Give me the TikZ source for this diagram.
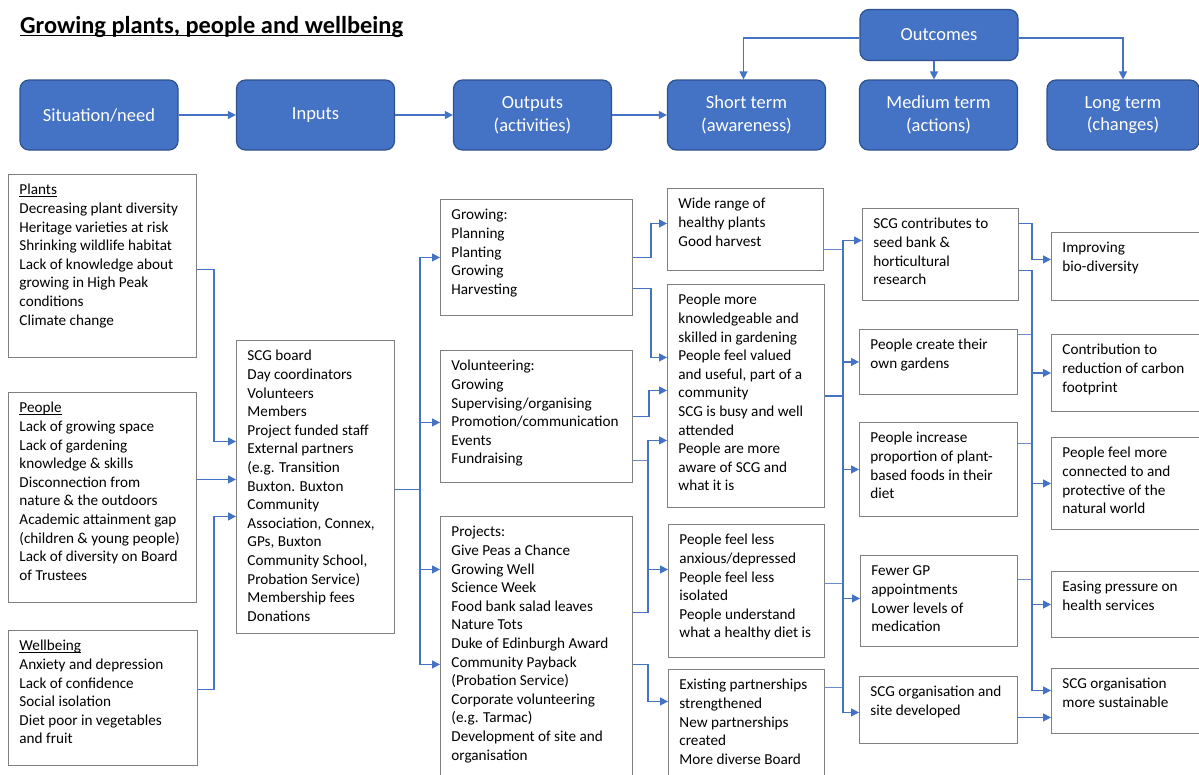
\documentclass[tikz,border=0pt]{standalone}
\usepackage{fontspec}
\setmainfont{Carlito}
\usetikzlibrary{arrows.meta}
\definecolor{hdblue}{HTML}{4472C4}
\definecolor{hdedge}{HTML}{2F528F}
\definecolor{boxgray}{HTML}{808080}
\begin{document}
\begin{tikzpicture}[x=1pt,y=-1pt,
  head/.style={draw=hdedge, line width=1.2pt, fill=hdblue, rounded corners=9pt,
    text=white, align=center, font=\fontsize{18.5}{22.6}\selectfont,
    minimum width=158pt, minimum height=70pt},
  txtbox/.style 2 args={draw=boxgray, line width=0.9pt, anchor=north west,
    inner xsep=11pt, inner ysep=7.5pt,
    execute at begin node={\fontsize{15.2}{18.6}\selectfont
      \begin{minipage}[t][\dimexpr#2pt-15pt\relax][t]{\dimexpr#1pt-22pt\relax}\raggedright\strut},
    execute at end node={\end{minipage}}},
  link/.style={draw=hdblue, line width=1.3pt, -{Triangle[length=8pt,width=8pt]}},
  thinlink/.style={draw=hdblue!80, line width=0.7pt}]
\useasboundingbox (0,0) rectangle (1199,774);

% title
\node[anchor=base west, inner sep=0pt, font=\fontsize{24.4}{29}\selectfont\bfseries]
  (title) at (20,33) {Growing plants, people and wellbeing};
\draw[line width=1.5pt] ([yshift=-2.5pt]title.base west) -- ([yshift=-2.5pt]title.base east);

% header row
\node[head] (sit) at (99,115) {Situation/need};
\node[head] (inp) at (315.5,115) {Inputs};
\node[head] (outp) at (532.5,115) {Outputs\\(activities)};
\node[head] (short) at (746.5,115) {Short term\\(awareness)};
\node[head] (medium) at (938.5,115) {Medium term\\(actions)};
\node[head, minimum width=152pt] (long) at (1123,115) {Long term\\(changes)};
\node[head, minimum height=51pt] (outc) at (939,35) {Outcomes};

\draw[link] (sit) -- (inp);
\draw[link] (inp) -- (outp);
\draw[link] (outp) -- (short);
\draw[link] ([yshift=-3pt]outc.west) -| ([xshift=-3pt]short.north);
\draw[link] ([xshift=-5pt]outc.south) -- ([xshift=-5pt]outc.south |- medium.north);
\draw[link] ([yshift=-3pt]outc.east) -| (long.north);

% situation
\node[txtbox={188}{183}] (plants) at (8,174) {\underline{\smash{Plants}}\\
Decreasing plant diversity\\
Heritage varieties at risk\\
Shrinking wildlife habitat\\
Lack of knowledge about\\
growing in High Peak\\
conditions\\
Climate change};
\node[txtbox={188}{210}] (people) at (8,392) {\underline{\smash{People}}\\
Lack of growing space\\
Lack of gardening\\
knowledge \& skills\\
Disconnection from\\
nature \& the outdoors\\
Academic attainment gap\\
(children \& young people)\\
Lack of diversity on Board\\
of Trustees};
\node[txtbox={189}{135}] (wellbeing) at (8,630) {\underline{\smash{Wellbeing}}\\
Anxiety and depression\\
Lack of confidence\\
Social isolation\\
Diet poor in vegetables\\
and fruit};

% inputs
\node[txtbox={158}{293}] (inputs) at (236,340) {SCG board\\
Day coordinators\\
Volunteers\\
Members\\
Project funded staff\\
External partners\\
(e.g. Transition\\
Buxton. Buxton\\
Community\\
Association, Connex,\\
GPs, Buxton\\
Community School,\\
Probation Service)\\
Membership fees\\
Donations};

% outputs
\node[txtbox={192}{116}] (growing) at (440,199) {Growing:\\
Planning\\
Planting\\
Growing\\
Harvesting};
\node[txtbox={192}{132}] (volunteering) at (440,350) {Volunteering:\\
Growing\\
Supervising/organising\\
Promotion/communication\\
Events\\
Fundraising};
\node[txtbox={192}{264}] (projects) at (440,516) {Projects:\\
Give Peas a Chance\\
Growing Well\\
Science Week\\
Food bank salad leaves\\
Nature Tots\\
Duke of Edinburgh Award\\
Community Payback\\
(Probation Service)\\
Corporate volunteering\\
(e.g. Tarmac)\\
Development of site and\\
organisation};

% short term
\node[txtbox={156}{82}] (wide) at (667,188) {Wide range of\\
healthy plants\\
Good harvest};
\node[txtbox={157}{223}] (know) at (667,284) {People more\\
knowledgeable and\\
skilled in gardening\\
People feel valued\\
and useful, part of a\\
community\\
SCG is busy and well\\
attended\\
People are more\\
aware of SCG and\\
what it is};
\node[txtbox={156}{133}] (feel) at (668,524) {People feel less\\
anxious/depressed\\
People feel less\\
isolated\\
People understand\\
what a healthy diet is};
\node[txtbox={156}{110}] (partner) at (668,669) {Existing partnerships\\
strengthened\\
New partnerships\\
created\\
More diverse Board};

% medium term
\node[txtbox={156}{92}] (seed) at (862,208) {SCG contributes to\\
seed bank \&\\
horticultural\\
research};
\node[txtbox={158}{65}] (garden) at (859,329) {People create their\\
own gardens};
\node[txtbox={158}{94}] (plantfood) at (859,422) {People increase\\
proportion of plant-\\
based foods in their\\
diet};
\node[txtbox={157}{91}] (gp) at (860,555) {Fewer GP\\
appointments\\
Lower levels of\\
medication};
\node[txtbox={158}{67}] (site) at (859,676) {SCG organisation and\\
site developed};

% long term
\node[txtbox={149}{68}] (bio) at (1051,232) {Improving\\
bio-diversity};
\node[txtbox={149}{77}] (carbon) at (1051,334) {Contribution to\\
reduction of carbon\\
footprint};
\node[txtbox={149}{92}] (nature) at (1051,437) {People feel more\\
connected to and\\
protective of the\\
natural world};
\node[txtbox={149}{66}] (easing) at (1051,571) {Easing pressure on\\
health services};
\node[txtbox={149}{65}] (sustain) at (1051,668) {SCG organisation\\
more sustainable};

% situation -> inputs
\coordinate (inA) at ([yshift=7.5pt]inputs.west);
\draw[link] ([yshift=-3.5pt]plants.east) -- ++(17,0) |- ([yshift=45.5pt]inputs.west);
\draw[link] (people.east |- inA) -- (inA);
\draw[link] ([yshift=8.5pt]wellbeing.east) -- ++(16,0) |- ([yshift=-29.5pt]inputs.west);

% inputs -> outputs
\draw[link] ([yshift=-2.5pt]inputs.east) -- ++(25,0) |- (growing.west);
\draw[link] ([yshift=-2.5pt]inputs.east) -- ++(25,0) |- ([yshift=-6pt]volunteering.west);
\draw[link] ([yshift=-2.5pt]inputs.east) -- ++(25,0) |- ([yshift=79pt]projects.west);
\draw[link] ([yshift=-2.5pt]inputs.east) -- ++(25,0) |- ([yshift=-16pt]projects.west);

% outputs -> short term
\draw[link] (growing.east) -- ++(18,0) |- ([yshift=6pt]wide.west);
\draw[link] ([yshift=-31pt]growing.east) -- ++(18,0) |- ([yshift=38.5pt]know.west);
\draw[link] (volunteering.east) -- ++(16,0) |- ([yshift=5.5pt]know.west);
\draw[thinlink] ([yshift=-44pt]volunteering.east) -- ++(15,0);
\draw[link] ([yshift=36pt]projects.east) -- ++(15,0) |- ([yshift=-44.5pt]know.west);
\draw[link] ([yshift=36pt]projects.east) -- ++(15,0) |- ([yshift=21.5pt]feel.west);
\draw[link] ([yshift=-16pt]projects.east) -- ++(15,0) |- ([yshift=23pt]partner.west);

% short term -> medium term
\draw[thinlink] ([yshift=-20pt]wide.east) -- ++(19,0);
\draw[thinlink] ([yshift=7.5pt]feel.east) -- ++(18,0);
\draw[thinlink] ([yshift=37pt]partner.east) -- ++(18,0);
\draw[link] (know.east) -- ++(18,0) |- ([yshift=14pt]seed.west);
\draw[link] (know.east) -- ++(18,0) |- (garden.west);
\draw[link] (know.east) -- ++(18,0) |- (plantfood.west);
\draw[link] (know.east) -- ++(18,0) |- ([yshift=2.5pt]gp.west);
\draw[link] (know.east) -- ++(18,0) |- ([yshift=-2.5pt]site.west);

% medium term -> long term
\draw[link] ([yshift=31pt]seed.east) -- ++(13,0) |- ([yshift=7pt]bio.west);
\draw[thinlink] ([yshift=27.5pt]garden.east) -- ++(14,0);
\draw[thinlink] ([yshift=26pt]plantfood.east) -- ++(14,0);
\draw[thinlink] ([yshift=21.5pt]gp.east) -- ++(14,0);
\draw[link] ([yshift=-16pt]seed.east) -- ++(13,0) |- (carbon.west);
\draw[link] ([yshift=-16pt]seed.east) -- ++(13,0) |- (nature.west);
\draw[link] ([yshift=-16pt]seed.east) -- ++(13,0) |- (easing.west);
\draw[link] ([yshift=-16pt]seed.east) -- ++(13,0) |- ([yshift=10.5pt]sustain.west);
\coordinate (susA) at ([yshift=-16.5pt]sustain.west);
\draw[link] (site.east |- susA) -- (susA);
\end{tikzpicture}
\end{document}
